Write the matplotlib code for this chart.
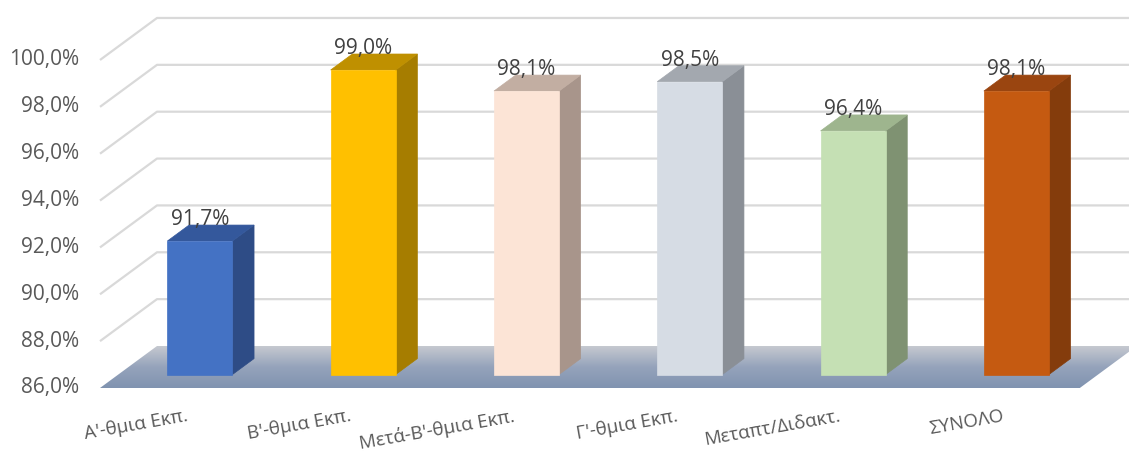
import numpy as np
import matplotlib
matplotlib.use('Agg')
import matplotlib.pyplot as plt
from matplotlib.patches import Polygon
from matplotlib.colors import LinearSegmentedColormap

# ---------------- data ----------------
categories = ["Α'-θμια Εκπ.", "Β'-θμια Εκπ.", "Μετά-Β'-θμια Εκπ.",
              "Γ'-θμια Εκπ.", "Μεταπτ/Διδακτ.", "ΣΥΝΟΛΟ"]
values = [91.7, 99.0, 98.1, 98.5, 96.4, 98.1]
value_labels = ["91,7%", "99,0%", "98,1%", "98,5%", "96,4%", "98,1%"]
y_ticks = [86, 88, 90, 92, 94, 96, 98, 100]
y_tick_labels = ["86,0%", "88,0%", "90,0%", "92,0%", "94,0%", "96,0%", "98,0%", "100,0%"]

front_colors = ['#4472C4', '#FFC000', '#FCE4D6', '#D6DCE4', '#C5E0B4', '#C55A11']
side_colors = ['#2E4C86', '#A67D00', '#A8958B', '#8A8F96', '#7F9272', '#843C0C']
top_colors = ['#34589C', '#BF9000', '#C2AEA2', '#A3A8AF', '#9EB58E', '#9A4510']

# ---------------- layout (pixels) ----------------
W, H = 1129, 451
X0 = 100.0          # front-left corner of floor (px)
CAT_PX = 163.3      # px per category
Y_BASE = 388.0      # px of 86% at front plane
PX_PCT = 23.43      # px per percent
DEPTH_PX = (57.0, 42.0)
YMIN = 86.0
n = len(categories)

DX = DEPTH_PX[0] / CAT_PX
DY = DEPTH_PX[1] / PX_PCT
dF, dB = 0.32, 0.70
half_w = 0.199

fig = plt.figure(figsize=(W / 100, H / 100), dpi=100)
ax = fig.add_axes([0, 0, 1, 1])
ax.set_axis_off()
xlim = (-X0 / CAT_PX, (W - X0) / CAT_PX)
ylim = (YMIN - (H - Y_BASE) / PX_PCT, YMIN + Y_BASE / PX_PCT)

def P(u, v, d):
    return (u + d * DX, v + d * DY)

FONT = ['Open Sans', 'DejaVu Sans']

# grid lines (left wall + back wall)
for t in y_ticks[1:]:
    pts = [P(0, t, 0), P(0, t, 1), P(xlim[1] + 1, t, 1)]
    xs, ys = zip(*pts)
    ax.plot(xs, ys, color='#D9D9D9', lw=1.6, zorder=1, solid_capstyle='butt')

# floor with gradient
floor_pts = [P(0, YMIN, 0), P(n, YMIN, 0), P(n, YMIN, 1), P(0, YMIN, 1)]
floor = Polygon(floor_pts, closed=True, facecolor='none', edgecolor='none')
ax.add_patch(floor)
cmap = LinearSegmentedColormap.from_list('fl', ['#8093B0', '#95A3BB', '#C6C9D0'])
grad = np.linspace(0, 1, 256).reshape(-1, 1)
im = ax.imshow(grad, cmap=cmap, aspect='auto', origin='lower',
               extent=[0, n + DX, YMIN, YMIN + DY], zorder=2, interpolation='bilinear')
im.set_clip_path(floor)

# bars
for i, (val, fc, sc, tc) in enumerate(zip(values, front_colors, side_colors, top_colors)):
    c = i + 0.5
    front = [P(c - half_w, YMIN, dF), P(c + half_w, YMIN, dF),
             P(c + half_w, val, dF), P(c - half_w, val, dF)]
    side = [P(c + half_w, YMIN, dF), P(c + half_w, YMIN, dB),
            P(c + half_w, val, dB), P(c + half_w, val, dF)]
    top = [P(c - half_w, val, dF), P(c + half_w, val, dF),
           P(c + half_w, val, dB), P(c - half_w, val, dB)]
    for poly, col in ((side, sc), (top, tc), (front, fc)):
        ax.add_patch(Polygon(poly, closed=True, facecolor=col, edgecolor=col,
                             lw=0.5, zorder=3))
    lx, _ = P(c, val, dF)
    _, ly = P(c, val, dB)
    ax.text(lx, ly, value_labels[i], ha='center', va='baseline',
            fontsize=15, color='#404040', family=FONT, zorder=5)

# y tick labels
for t, lab in zip(y_ticks, y_tick_labels):
    ax.text(-21 / CAT_PX, t, lab, ha='right', va='center', fontsize=15,
            color='#595959', family=FONT)

# category labels
for i, lab in enumerate(categories):
    cx, _ = P(i + 0.5, YMIN, dF)
    ax.text(cx - 14 / CAT_PX, YMIN - (407 - Y_BASE) / PX_PCT, lab,
            ha='right', va='top', rotation=10, rotation_mode='anchor',
            fontsize=13.5, color='#595959', family=FONT)

ax.set_xlim(*xlim)
ax.set_ylim(*ylim)
fig.savefig('out.png', dpi=100, facecolor='white')
